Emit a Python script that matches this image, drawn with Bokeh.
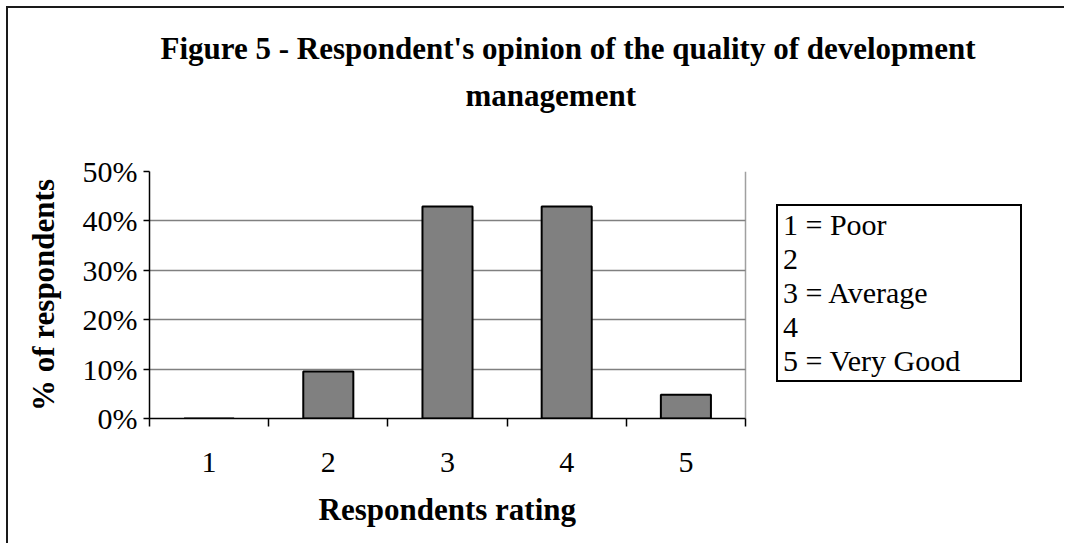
from bokeh.plotting import figure
from bokeh.models import (ColumnDataSource, FixedTicker, Title, Legend, LegendItem)
from bokeh.embed import file_html
from bokeh.resources import INLINE

# ---- data ----
ratings = ["1", "2", "3", "4", "5"]
percent = [0, 9.5, 42.9, 42.9, 4.8]
legend_labels = ["1 = Poor", "2", "3 = Average", "4", "5 = Very Good"]
y_ticks = [0, 10, 20, 30, 40, 50]
title_line1 = "Figure 5 - Respondent's opinion of the quality of development"
title_line2 = "management"
x_label = "Respondents rating"
y_label = "% of respondents"

FONT = "Liberation Serif"

xpos = list(range(1, len(ratings) + 1))
x_lo, x_hi = 0.5, len(ratings) + 0.5
src = ColumnDataSource(dict(x=xpos, top=percent, label=ratings))

# frame is widened to the right so the key box fits inside the drawing area;
# the visible plot area (axis, grid, border) is limited to the category span
W, H = 1058, 537
ML, MR, MT, MB = 141, 18, 163, 127
plot_px = 596                      # pixel width of the category span
frame_px = W - ML - MR
x_end = x_lo + (x_hi - x_lo) * frame_px / plot_px

p = figure(width=W, height=H, output_backend="svg", toolbar_location=None,
           title=None, x_range=(x_lo, x_end), y_range=(y_ticks[0], y_ticks[-1]),
           min_border_left=ML, min_border_right=MR, min_border_top=MT,
           min_border_bottom=MB)
p.styles = {"border-left": "2px solid #1a1a1a", "border-top": "2px solid #1a1a1a",
            "margin-left": "6px", "margin-top": "6px"}

p.background_fill_color = "white"
p.border_fill_color = "white"
p.outline_line_color = None

p.vbar(x="x", top="top", width=0.42, bottom=0, source=src,
       fill_color="#808080", line_color="black", line_width=2)

# axes
xa = p.xaxis[0]
xa.bounds = (x_lo, x_hi)
xa.ticker = FixedTicker(ticks=xpos, minor_ticks=[v - 0.5 for v in xpos] + [x_hi])
xa.major_label_overrides = {v: lab for v, lab in zip(xpos, ratings)}
xa.major_tick_out = 0
xa.major_tick_in = 0
xa.minor_tick_out = 8
xa.minor_tick_in = 0
xa.minor_tick_line_color = "black"
xa.minor_tick_line_width = 1.5
xa.axis_line_color = "black"
xa.axis_line_width = 1.5
xa.major_label_text_font = FONT
xa.major_label_text_font_size = "30px"
xa.major_label_text_color = "black"
xa.major_label_standoff = 26

ya = p.yaxis[0]
ya.ticker = FixedTicker(ticks=y_ticks, minor_ticks=[])
ya.major_label_overrides = {v: f"{v}%" for v in y_ticks}
ya.major_tick_out = 6
ya.major_tick_in = 0
ya.major_tick_line_color = "black"
ya.major_tick_line_width = 1.5
ya.axis_line_color = "black"
ya.axis_line_width = 1.5
ya.major_label_text_font = FONT
ya.major_label_text_font_size = "30px"
ya.major_label_text_color = "black"
ya.major_label_standoff = 6
ya.axis_label = y_label
ya.axis_label_text_font = FONT
ya.axis_label_text_font_size = "31px"
ya.axis_label_text_font_style = "bold"
ya.axis_label_text_color = "black"
ya.axis_label_standoff = 19

# horizontal grid across the category span only
p.ygrid.ticker = FixedTicker(ticks=y_ticks)
p.ygrid.cross_bounds = (x_lo, x_hi)
p.ygrid.grid_line_color = "#808080"
p.ygrid.grid_line_width = 1.5
# right border of the plot area
p.xgrid.ticker = FixedTicker(ticks=[x_hi])
p.xgrid.grid_line_color = "#a0a0a0"
p.xgrid.grid_line_width = 1.5

# x-axis title (placed as a below-panel title so it is centred on the plot area)
xt = Title(text=x_label, align="left", offset=169, standoff=31,
           text_font=FONT, text_font_size="31px", text_font_style="bold",
           text_color="black")
p.add_layout(xt, "below")

# chart titles (first added is closest to the frame)
spacer = Title(text=" ", standoff=22, text_font=FONT, text_font_size="31px")
t2 = Title(text=title_line2, align="left", offset=316, standoff=0,
           text_font=FONT, text_font_size="31px", text_font_style="bold",
           text_color="black")
t1 = Title(text=title_line1, align="left", offset=11, standoff=19,
           text_font=FONT, text_font_size="31px", text_font_style="bold",
           text_color="black")
p.add_layout(spacer, "above")
p.add_layout(t2, "above")
p.add_layout(t1, "above")

# legend (text-only key)
dummy = p.scatter(x=[], y=[], fill_alpha=0, line_alpha=0, size=0)
items = [LegendItem(label=lab, renderers=[dummy]) for lab in legend_labels]
legend = Legend(items=items, location=(627, 36), orientation="vertical",
                glyph_width=0, glyph_height=30, label_height=30, label_width=235,
                label_standoff=3, spacing=0, padding=2, margin=0,
                label_text_font=FONT, label_text_font_size="30px",
                label_text_color="black",
                border_line_color="black", border_line_width=2,
                border_line_alpha=1,
                background_fill_color="white", background_fill_alpha=1)
p.add_layout(legend, "center")

open("out.html", "w").write(file_html(p, INLINE))
